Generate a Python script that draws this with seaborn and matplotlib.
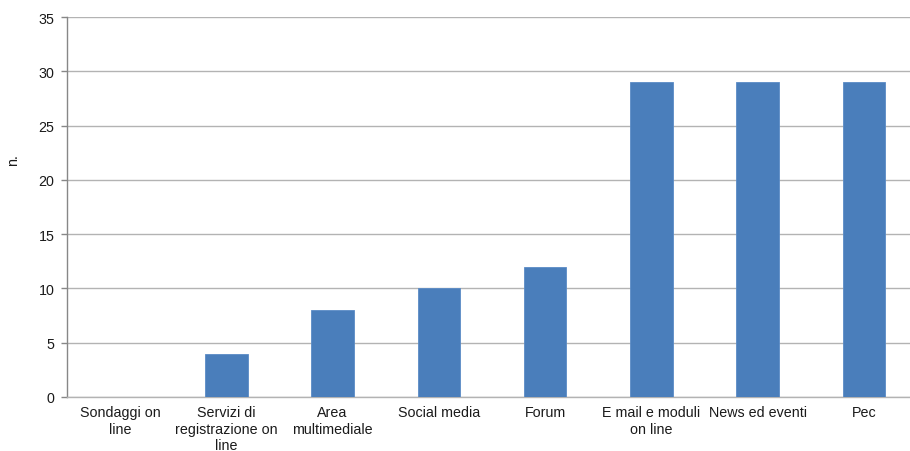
import matplotlib
matplotlib.use("Agg")
import matplotlib.pyplot as plt
import seaborn as sns
import pandas as pd

categories = [
    "Sondaggi on\nline",
    "Servizi di\nregistrazione on\nline",
    "Area\nmultimediale",
    "Social media",
    "Forum",
    "E mail e moduli\non line",
    "News ed eventi",
    "Pec",
]
values = [0, 4, 8, 10, 12, 29, 29, 29]
y_ticks = [0, 5, 10, 15, 20, 25, 30, 35]

sns.set_style("white")
plt.rcParams["font.family"] = ["Liberation Sans", "DejaVu Sans"]

df = pd.DataFrame({"cat": categories, "n": values})

W, H, DPI = 910, 452, 100
FS = 10.3
fig = plt.figure(figsize=(W / DPI, H / DPI), dpi=DPI)
left, right, top, bottom = 67, 917, 18, 398
ax = fig.add_axes([left / W, 1 - bottom / H, (right - left) / W, (bottom - top) / H])

sns.barplot(data=df, x="cat", y="n", ax=ax, color="#4A7EBB", width=0.4,
            saturation=1, edgecolor="#5B8BC6", linewidth=0.6, zorder=3)

ax.set_ylim(0, 35)
ax.set_xlim(-0.5, len(categories) - 0.5)
ax.set_yticks(y_ticks)
ax.yaxis.grid(True, color="#B3B3B3", linewidth=1.0, zorder=0)
ax.set_axisbelow(True)

for s in ["top", "right"]:
    ax.spines[s].set_visible(False)
ax.spines["left"].set_color("#878787")
ax.spines["left"].set_linewidth(1.0)
ax.spines["bottom"].set_color("#B3B3B3")
ax.spines["bottom"].set_linewidth(1.0)

ax.tick_params(axis="y", length=4, width=1.0, color="#878787", labelsize=FS,
               pad=5, left=True, labelcolor="#1a1a1a")
ax.tick_params(axis="x", length=0, labelsize=FS, pad=6, labelcolor="#1a1a1a")
for lbl in ax.get_xticklabels():
    lbl.set_linespacing(1.2)

ax.set_xlabel("")
ax.set_ylabel("")
fig.text(13 / W, 1 - 160 / H, "n.", rotation=90, ha="center", va="center",
         fontsize=FS, color="#1a1a1a")

fig.savefig("out.png", dpi=DPI)
